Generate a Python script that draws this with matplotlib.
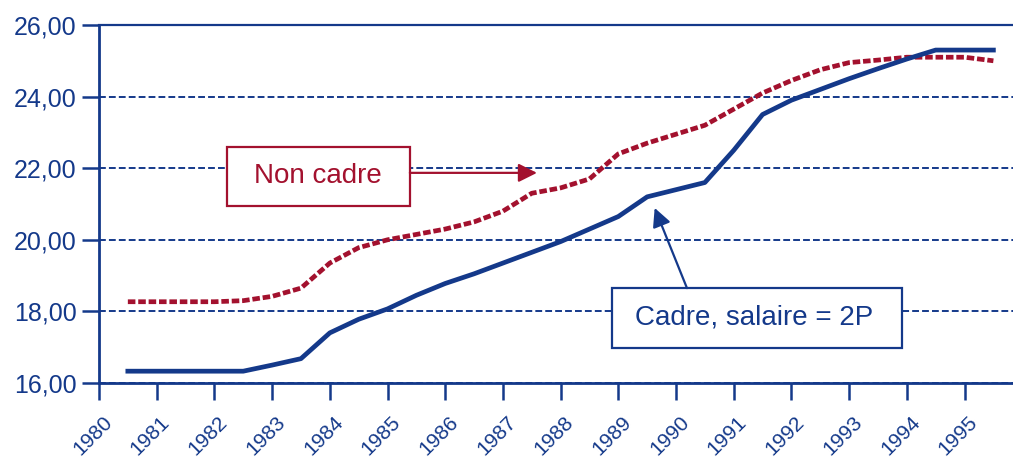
import matplotlib.pyplot as plt
from matplotlib.patches import Rectangle
from matplotlib.ticker import FixedLocator
import matplotlib.transforms as mtransforms

plt.rcParams["font.family"] = ["Liberation Sans", "DejaVu Sans"]

# Data (half-year steps)
years = [str(y) for y in range(1980, 1996)]
periods = [1980.0, 1980.5, 1981.0, 1981.5, 1982.0, 1982.5, 1983.0, 1983.5,
           1984.0, 1984.5, 1985.0, 1985.5, 1986.0, 1986.5, 1987.0, 1987.5,
           1988.0, 1988.5, 1989.0, 1989.5, 1990.0, 1990.5, 1991.0, 1991.5,
           1992.0, 1992.5, 1993.0, 1993.5, 1994.0, 1994.5, 1995.0]
cadre = [16.33, 16.33, 16.33, 16.33, 16.33, 16.50, 16.68, 17.40,
         17.78, 18.07, 18.45, 18.78, 19.05, 19.35, 19.65, 19.95,
         20.30, 20.65, 21.20, 21.40, 21.60, 22.50, 23.50, 23.90,
         24.20, 24.50, 24.78, 25.05, 25.30, 25.30, 25.30]
non_cadre = [18.27, 18.27, 18.27, 18.27, 18.30, 18.42, 18.65, 19.35,
             19.78, 20.00, 20.15, 20.30, 20.50, 20.80, 21.30, 21.45,
             21.70, 22.40, 22.70, 22.95, 23.20, 23.65, 24.10, 24.45,
             24.75, 24.95, 25.02, 25.10, 25.10, 25.10, 25.00]

navy = "#14398a"
red = "#a3112e"

fig = plt.figure(figsize=(10.13, 4.66), dpi=100)
ax = fig.add_axes([99 / 1013, 1 - 383 / 466, 1 - 99 / 1013, (383 - 25) / 466])

x = [p - 1980 for p in periods]
ax.plot(x, non_cadre, color=red, linewidth=3.4, linestyle=(0, (1.6, 0.6)),
        solid_capstyle="butt", zorder=3)
ax.plot(x, cadre, color=navy, linewidth=3.4, zorder=4)

ax.set_xlim(-0.5, 15.34)
ax.set_ylim(16, 26)

# y axis
ax.set_yticks([16, 18, 20, 22, 24, 26])
ax.set_yticklabels(["16,00", "18,00", "20,00", "22,00", "24,00", "26,00"])
ax.tick_params(axis="y", length=12, width=1.8, color=navy, labelcolor=navy,
               labelsize=18, pad=4)
ax.grid(axis="y", color=navy, linestyle=(0, (3.5, 1.6)), linewidth=1.4)

# x axis: labels at category centres, ticks at boundaries
ax.set_xticks(range(len(years)))
ax.set_xticklabels(years, rotation=45, ha="right", va="top")
ax.xaxis.set_minor_locator(FixedLocator([i - 0.5 for i in range(len(years))]))
ax.tick_params(axis="x", which="major", length=0, labelcolor=navy,
               labelsize=15, pad=21)
ax.tick_params(axis="x", which="minor", length=12, width=1.8, color=navy)
offset = mtransforms.ScaledTranslation(-12 / 100, 0, fig.dpi_scale_trans)
for lbl in ax.get_xticklabels():
    lbl.set_transform(lbl.get_transform() + offset)

ax.spines["right"].set_visible(False)
ax.spines["top"].set_color(navy)
ax.spines["top"].set_linewidth(1.6)
for side in ["left", "bottom"]:
    ax.spines[side].set_color(navy)
    ax.spines[side].set_linewidth(2)

# annotations
ax.add_patch(Rectangle((1.716, 20.94), 3.171, 1.65, facecolor="white",
                       edgecolor=red, linewidth=1.6, zorder=5))
ax.text(3.30, 21.77, "Non cadre", color=red, fontsize=20,
        ha="center", va="center", zorder=6)
ax.annotate("", xy=(7.09, 21.87), xytext=(4.887, 21.87),
            arrowprops=dict(arrowstyle="-|>", color=red, lw=1.6,
                            mutation_scale=28, shrinkA=0, shrinkB=0),
            zorder=6)

ax.add_patch(Rectangle((8.39, 16.98), 5.02, 1.67, facecolor="white",
                       edgecolor=navy, linewidth=1.6, zorder=5))
ax.text(10.85, 17.82, "Cadre, salaire = 2P", color=navy, fontsize=20,
        ha="center", va="center", zorder=6)
ax.annotate("", xy=(9.13, 20.89), xytext=(9.69, 18.65),
            arrowprops=dict(arrowstyle="-|>", color=navy, lw=1.6,
                            mutation_scale=28, shrinkA=0, shrinkB=0),
            zorder=6)

plt.savefig("out.png", dpi=100)
